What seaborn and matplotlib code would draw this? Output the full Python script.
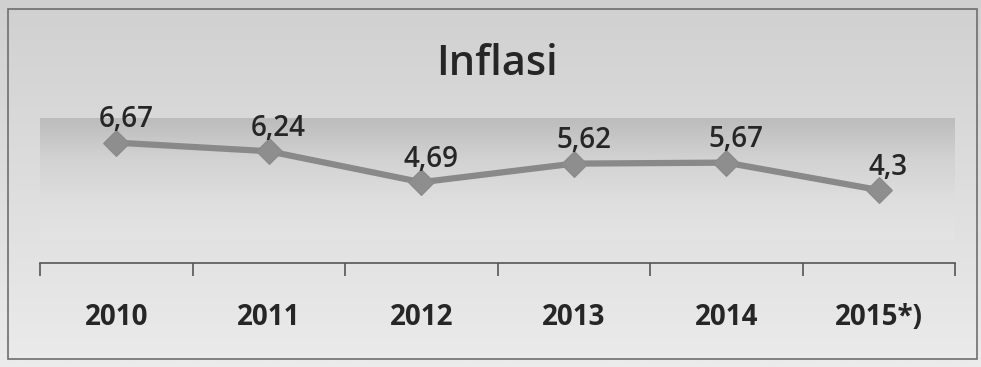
import numpy as np
import pandas as pd
import matplotlib
matplotlib.use("Agg")
import matplotlib.pyplot as plt
import seaborn as sns
from matplotlib.ticker import FixedLocator

years = ["2010", "2011", "2012", "2013", "2014", "2015*)"]
inflation = [6.67, 6.24, 4.69, 5.62, 5.67, 4.3]
value_labels = ["6,67", "6,24", "4,69", "5,62", "5,67", "4,3"]
title = "Inflasi"

sns.set_theme(style="white")
plt.rcParams['font.family'] = ['Open Sans', 'DejaVu Sans']

df = pd.DataFrame({"year": years, "inflation": inflation, "pos": range(len(years))})

fig = plt.figure(figsize=(9.81, 3.67), dpi=100)
fig.patch.set_facecolor("#e2e2e2")

# background gradient for the whole figure (scanned look)
bg = fig.add_axes([0, 0, 1, 1], zorder=0)
grad = np.linspace(0, 1, 256).reshape(-1, 1)
bg.imshow(grad, aspect="auto", cmap=matplotlib.colors.LinearSegmentedColormap.from_list(
    "bgc", ["#d0d0d0", "#ebebeb"]), extent=[0, 1, 0, 1], origin="upper")
bg.set_xlim(0, 1); bg.set_ylim(0, 1)
bg.axis("off")
bg.add_patch(plt.Rectangle((0.008, 0.022), 0.988, 0.953, fill=False,
                           edgecolor="#6e6e6e", lw=1.2, transform=bg.transAxes))

ax = fig.add_axes([0.0408, 0.2834, 0.9327, 0.4086], zorder=1)
ax.set_facecolor("none")

ymin, ymax = 0.65, 8.15
# plot-area band gradient, fading downwards
band = np.linspace(0, 1, 256).reshape(-1, 1)
ax.imshow(band, aspect="auto", extent=[-0.5, 5.5, 1.8, 7.9], origin="upper",
          cmap=matplotlib.colors.LinearSegmentedColormap.from_list(
              "band", ["#bcbcbc", "#d2d2d2", "#dedede", "#e4e4e4"]), zorder=0)

sns.lineplot(data=df, x="pos", y="inflation", ax=ax, color="#898989", lw=4.5,
             marker="D", markersize=13, markeredgecolor="#898989",
             markerfacecolor="#8e8e8e", zorder=3)

for p, v, lab in zip(df["pos"], inflation, value_labels):
    ax.annotate(lab, (p, v), xytext=(7, 16.5), textcoords="offset points",
                ha="center", va="center", fontsize=20, fontweight="semibold",
                color="#262626", zorder=4)

ax.set_xlim(-0.5, 5.5)
ax.set_ylim(ymin, ymax)
ax.set_xticks(range(len(years)))
ax.set_xticklabels(years, fontsize=20, fontweight="bold", color="#262626")
ax.xaxis.set_minor_locator(FixedLocator(np.arange(-0.5, 6.0, 1.0)))
ax.tick_params(axis="x", which="major", length=0, pad=29)
ax.tick_params(axis="x", which="minor", length=9, width=1.2, color="#555555",
               direction="out", bottom=True)
ax.set_yticks([])
ax.set_xlabel("")
ax.set_ylabel("")
for s in ["top", "right", "left"]:
    ax.spines[s].set_visible(False)
ax.spines["bottom"].set_color("#555555")
ax.spines["bottom"].set_linewidth(1.2)

fig.text(0.507, 0.825, title, ha="center", va="center", fontsize=30,
         fontweight="semibold", color="#262626")

fig.savefig("out.png", dpi=100)
